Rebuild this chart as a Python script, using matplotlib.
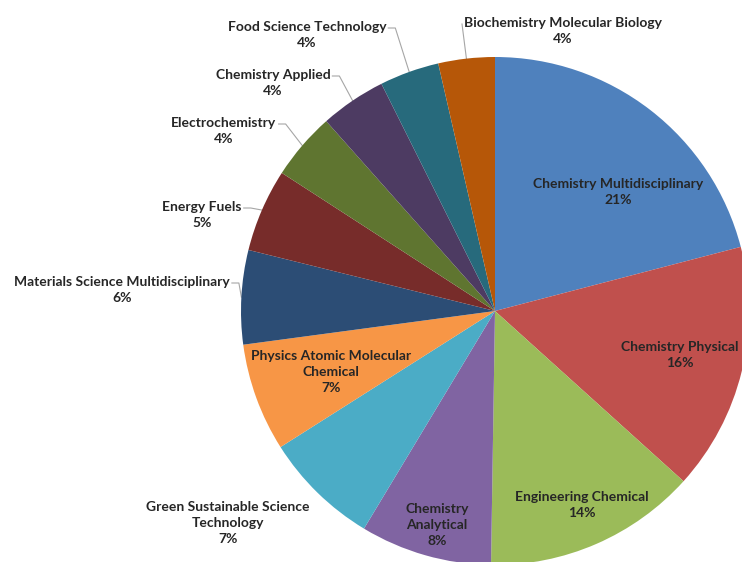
import numpy as np
import matplotlib.pyplot as plt

plt.rcParams["font.family"] = ["Lato", "DejaVu Sans"]

# datos: categorias y porcentaje de cada una
categorias = [
    "Chemistry Multidisciplinary",
    "Chemistry Physical",
    "Engineering Chemical",
    "Chemistry\nAnalytical",
    "Green Sustainable Science\nTechnology",
    "Physics Atomic Molecular\nChemical",
    "Materials Science Multidisciplinary",
    "Energy Fuels",
    "Electrochemistry",
    "Chemistry Applied",
    "Food Science Technology",
    "Biochemistry Molecular Biology",
]
valores = [21.0, 15.8, 13.6, 8.4, 7.4, 6.9, 6.0, 5.3, 4.3, 4.2, 3.8, 3.6]

colores = [
    "#4F81BD", "#C0504D", "#9BBB59", "#8064A2", "#4BACC6", "#F79646",
    "#2C4D75", "#772C2A", "#5F7530", "#4D3B62", "#276A7C", "#B65708",
]

# layout (px desde arriba-izquierda): centro de cada etiqueta y tipo de guia
pos_etiquetas = [
    (618, 192), (680, 355), (582, 505), (437, 525), (228, 523), (331, 372),
    (122, 290), (202, 215), (224, 131), (273, 83), (307, 35), (563, 31),
]
guia = [None, None, None, None, None, None,
        "der", "der", "der", "der", "der", "izq"]

W, H = 742, 562
cx, cy, R = 495, H - 311, 254

fig = plt.figure(figsize=(W / 100, H / 100), dpi=100)
ax = fig.add_axes([0, 0, 1, 1])
wedges, _ = ax.pie(
    valores, colors=colores, startangle=90, counterclock=False,
    center=(cx, cy), radius=R, wedgeprops={"linewidth": 0},
)
ax.set_xlim(0, W)
ax.set_ylim(0, H)
ax.set_aspect("equal")
ax.axis("off")

total = sum(valores)
textos = []
for nombre, v, (x, y) in zip(categorias, valores, pos_etiquetas):
    t = ax.text(x, H - y, f"{nombre}\n{100 * v / total:.0f}%",
                ha="center", va="center", fontsize=10, fontweight="bold",
                color="#262626", linespacing=1.4)
    textos.append(t)

# lineas guia de las etiquetas externas
fig.canvas.draw()
renderer = fig.canvas.get_renderer()
inv = ax.transData.inverted()
for t, w, g in zip(textos, wedges, guia):
    if g is None:
        continue
    bb = t.get_window_extent(renderer)
    (x0, y0), (x1, y1) = inv.transform([(bb.x0, bb.y0), (bb.x1, bb.y1)])
    ang = np.deg2rad((w.theta1 + w.theta2) / 2)
    px, py = cx + R * np.cos(ang), cy + R * np.sin(ang)
    yl = y1 - 0.25 * (y1 - y0)
    if g == "der":
        xs = [x1 + 2, x1 + 9, px]
        ys = [yl, yl, py]
    else:
        xs = [x0 - 2, px]
        ys = [yl, py]
    ax.plot(xs, ys, color="#A6A6A6", linewidth=0.8, zorder=0.5)

fig.savefig("out.png", dpi=100)
